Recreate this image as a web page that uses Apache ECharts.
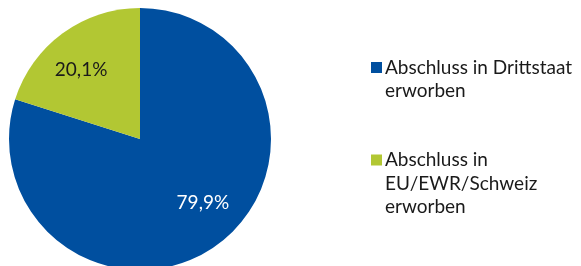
<!DOCTYPE html>
<html>
<head>
<meta charset="utf-8">
<script src="https://cdn.jsdelivr.net/npm/echarts@6/dist/echarts.min.js"></script>
<style>
html,body{margin:0;padding:0;background:#fff;}
#chart{width:581px;height:266px;}
</style>
</head>
<body>
<div id="chart"></div>
<script>
var categories = ['Abschluss in Drittstaat erworben', 'Abschluss in EU/EWR/Schweiz erworben'];
var legendLabels = ['Abschluss in Drittstaat\nerworben', 'Abschluss in\nEU/EWR/Schweiz\nerworben'];
var values = [79.9, 20.1];
var valueLabels = ['79,9%', '20,1%'];
var colors = ['#004f9f', '#b2c733'];
var labelColors = ['#ffffff', '#1a1a1a'];

var chart = echarts.init(document.getElementById('chart'), null, {renderer: 'canvas'});
var FONT = 'Lato';
var LH = 23.5;

var pieData = values.map(function (v, i) {
  return {name: categories[i], value: v, itemStyle: {color: colors[i]}};
});
var labelOffsets = [[8, -11], [-4, 6]];
var labelData = values.map(function (v, i) {
  return {
    name: categories[i], value: v,
    label: {formatter: valueLabels[i], color: labelColors[i], offset: labelOffsets[i]}
  };
});

function legendFor(i, iconCenterY) {
  var lines = legendLabels[i].split('\n');
  var n = lines.length;
  var pad = '';
  for (var k = 0; k < n - 1; k++) pad += '\n';
  var total = 2 * n - 1;
  return {
    data: [categories[i]],
    left: 371,
    top: iconCenterY - total * LH / 2,
    orient: 'vertical',
    icon: 'rect',
    itemWidth: 11,
    itemHeight: 11,
    itemGap: 0,
    padding: 0,
    selectedMode: false,
    formatter: function () { return pad + legendLabels[i]; },
    textStyle: {
      fontFamily: FONT, fontSize: 19, color: '#1a1a1a', lineHeight: LH,
      padding: [0, 0, 0, -2]
    }
  };
}

chart.setOption({
  animation: false,
  legend: [legendFor(0, 67.5), legendFor(1, 160)],
  series: [
    {
      type: 'pie',
      center: [140, 139],
      radius: [0, 131],
      startAngle: 90,
      clockwise: true,
      silent: true,
      label: {show: false},
      labelLine: {show: false},
      itemStyle: {borderWidth: 0},
      data: pieData
    },
    {
      type: 'pie',
      center: [140, 139],
      radius: [0, 180],
      startAngle: 90,
      clockwise: true,
      silent: true,
      legendHoverLink: false,
      itemStyle: {color: 'rgba(0,0,0,0)', borderWidth: 0},
      label: {show: true, position: 'inside', fontFamily: FONT, fontSize: 19},
      labelLine: {show: false},
      data: labelData
    }
  ]
});
</script>
</body>
</html>
